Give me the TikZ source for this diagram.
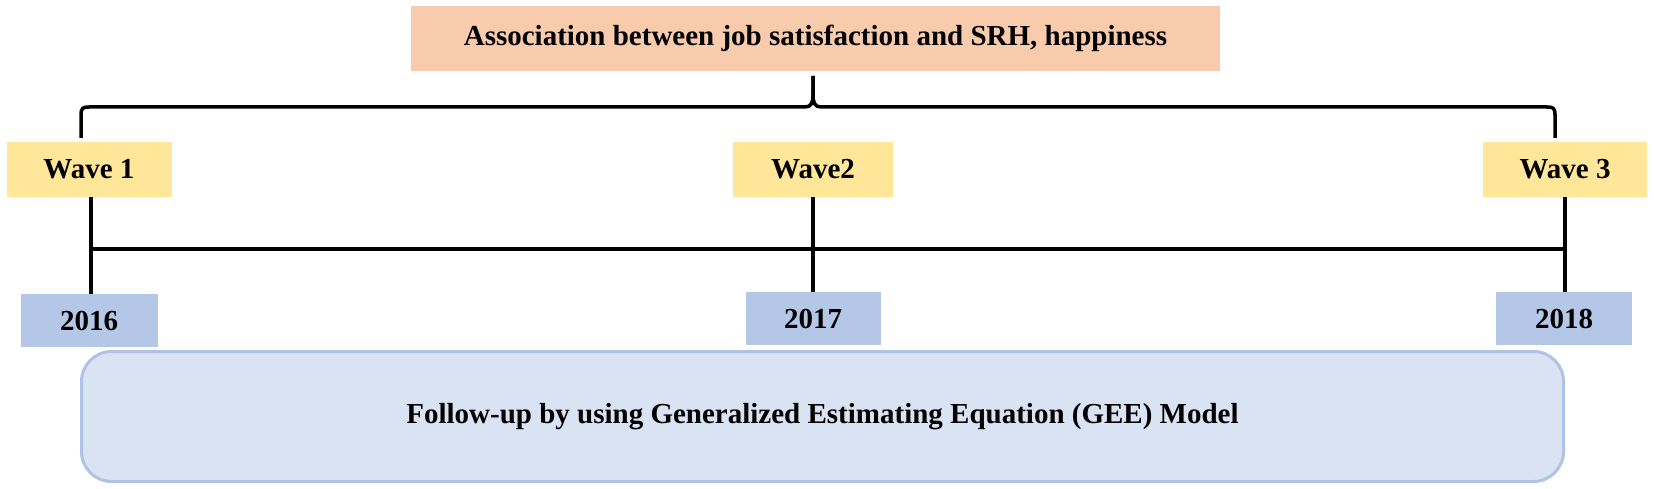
\documentclass[tikz,border=0pt]{standalone}
\usepackage{fontspec}
\setmainfont{Liberation Serif}
\definecolor{topfill}{HTML}{F8CBAD}
\definecolor{wavefill}{HTML}{FFE699}
\definecolor{yearfill}{HTML}{B4C7E7}
\definecolor{geefill}{HTML}{DAE3F3}
\definecolor{geeborder}{HTML}{AFC3E5}
\tikzset{
  lbl/.style={font=\fontsize{29}{34}\selectfont\bfseries, text=black, inner sep=0pt},
  topbox/.style={lbl, fill=topfill, minimum width=809pt, minimum height=65pt},
  wavebox/.style={lbl, fill=wavefill, minimum height=55pt},
  yearbox/.style={lbl, fill=yearfill, minimum height=53pt},
  geebox/.style={lbl, fill=geefill, draw=geeborder, line width=3pt, rounded corners=30pt, minimum width=1482pt, minimum height=130pt},
  conn/.style={draw=black, line width=3.5pt},
}
\begin{document}
\begin{tikzpicture}[x=1pt,y=-1pt]
\useasboundingbox (0,0) rectangle (1654,489);
\node[topbox] (top) at (815.5,38.5) {Association between job satisfaction and SRH, happiness};
\node[wavebox, minimum width=165pt] (w1) at (89,169.5) {Wave 1};
\node[wavebox, minimum width=160pt] (w2) at (813,169.5) {Wave2};
\node[wavebox, minimum width=164pt] (w3) at (1565,169.5) {Wave 3};
\node[yearbox, minimum width=137pt] (y1) at (89,320.5) {2016};
\node[yearbox, minimum width=135pt] (y2) at (813,318.5) {2017};
\node[yearbox, minimum width=136pt] (y3) at (1564,318.5) {2018};
\node[geebox] (gee) at (822.5,416.5) {Follow-up by using Generalized Estimating Equation (GEE) Model};
% brace
\coordinate (bl) at (81,138);
\coordinate (br) at (1555,138);
\coordinate (cusp) at (813,76);
\draw[conn] (bl) -- (81,115) .. controls (81,108) and (83,107) .. (89,107) -- (805,107)
  .. controls (811,107) and (813,103) .. (813,95) -- (cusp);
\draw[conn] (cusp) -- (813,95) .. controls (813,103) and (815,107) .. (821,107) -- (1547,107)
  .. controls (1553,107) and (1555,108) .. (1555,115) -- (br);
% timeline
\coordinate (t1) at (91,249);
\coordinate (t3) at (1565,249);
\draw[conn] (w1.south -| t1) -- (y1.north -| t1);
\draw[conn] (w2.south) -- (y2.north);
\draw[conn] (w3.south -| t3) -- (y3.north -| t3);
\draw[conn] (t1) -- (t3);
\end{tikzpicture}
\end{document}
